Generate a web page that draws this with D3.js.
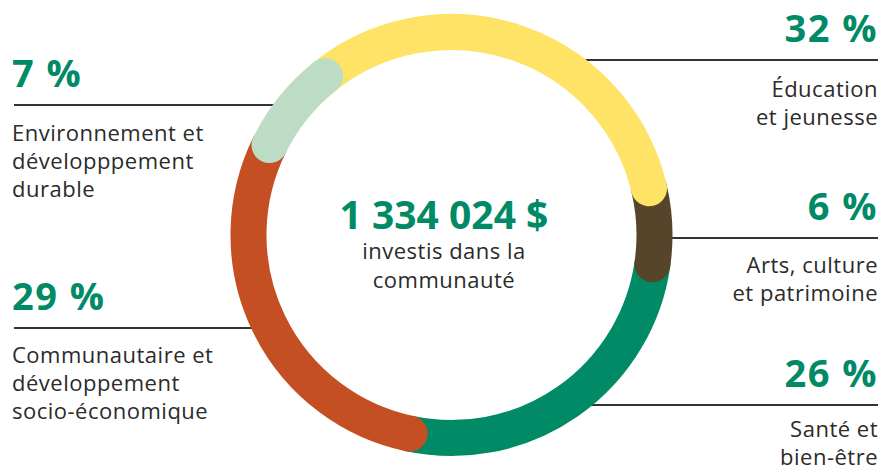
<!DOCTYPE html>
<html>
<head>
<meta charset="utf-8">
<script src="https://cdn.jsdelivr.net/npm/d3@7"></script>
<style>
  body { margin: 0; background: #fff; }
  text { font-family: "Open Sans", sans-serif; }
</style>
</head>
<body>
<script>
// chart data, clockwise from the top-left
var categories = ["Éducation|et jeunesse", "Arts, culture|et patrimoine", "Santé et|bien-être",
                  "Communautaire et|développement|socio-économique", "Environnement et|développpement|durable"];
var values = [32, 6, 26, 29, 7];
var pctLabels = ["32 %", "6 %", "26 %", "29 %", "7 %"];
var colors = ["#fee366", "#56452b", "#008a66", "#c44f22", "#bcdcc5"];
var totalLabel = "1 334 024 $";
var centerLines = ["investis dans la", "communauté"];

var width = 883, height = 466;
var cx = 451.5, cy = 235;
var ringR = 203, ringW = 36;

var svg = d3.select("body").append("svg")
    .attr("width", width)
    .attr("height", height);

// label placement: side, y of the leader line, offset of first text line
var labelPos = [
  { side: "right", lineY: 60, textDy: 37 },
  { side: "right", lineY: 238, textDy: 35 },
  { side: "right", lineY: 405, textDy: 32 },
  { side: "left", lineY: 328, textDy: 35 },
  { side: "left", lineY: 105, textDy: 36 }
];

// leader lines, drawn first so the ring sits on top
labelPos.forEach(function(p, i) {
  var dx = Math.sqrt(ringR * ringR - (p.lineY - cy) * (p.lineY - cy));
  var x1 = p.side == "left" ? 14 : 878;
  var x2 = p.side == "left" ? cx - dx : cx + dx;
  svg.append("line")
      .attr("x1", x1).attr("x2", x2)
      .attr("y1", p.lineY).attr("y2", p.lineY)
      .attr("stroke", "#333")
      .attr("stroke-width", 2);
});

// pie angles
var start = -38.5 * Math.PI / 180;
var pie = d3.pie().sort(null).startAngle(start).endAngle(start + 2 * Math.PI);
var arcs = pie(values);

function arcPath(d) {
  var p = d3.path();
  var a0 = d.startAngle - Math.PI / 2, a1 = d.endAngle - Math.PI / 2;
  p.moveTo(cx + ringR * Math.cos(a0), cy + ringR * Math.sin(a0));
  p.arc(cx, cy, ringR, a0, a1, false);
  return p.toString();
}

// stacking order of the rounded segments
var drawOrder = [2, 1, 0, 3, 4];
svg.selectAll("path.seg")
  .data(drawOrder.map(function(i) { return arcs[i]; }))
  .enter().append("path")
    .attr("class", "seg")
    .attr("d", arcPath)
    .attr("fill", "none")
    .attr("stroke", function(d) { return colors[d.index]; })
    .attr("stroke-width", ringW)
    .attr("stroke-linecap", "round");

// labels
labelPos.forEach(function(p, i) {
  var left = p.side == "left";
  var x = left ? 12 : 878;
  var anchor = left ? "start" : "end";
  svg.append("text")
      .attr("x", x)
      .attr("y", p.lineY - 18)
      .attr("text-anchor", anchor)
      .attr("fill", "#008a66")
      .attr("font-weight", 700)
      .attr("font-size", 38)
      .attr("letter-spacing", 1.5)
      .text(pctLabels[i]);
  categories[i].split("|").forEach(function(line, j) {
    svg.append("text")
        .attr("x", x)
        .attr("y", p.lineY + p.textDy + j * 28)
        .attr("text-anchor", anchor)
        .attr("fill", "#2b2b2b")
        .attr("font-size", 22)
        .attr("letter-spacing", 0.5)
        .text(line);
  });
});

// centre text
svg.append("text")
    .attr("x", 444).attr("y", 229)
    .attr("text-anchor", "middle")
    .attr("fill", "#008a66")
    .attr("font-weight", 700)
    .attr("font-size", 39)
    .text(totalLabel);
centerLines.forEach(function(line, j) {
  svg.append("text")
      .attr("x", 444).attr("y", 259 + j * 29)
      .attr("text-anchor", "middle")
      .attr("fill", "#2b2b2b")
      .attr("font-size", 22)
      .attr("letter-spacing", 0.5)
      .text(line);
});
</script>
</body>
</html>
